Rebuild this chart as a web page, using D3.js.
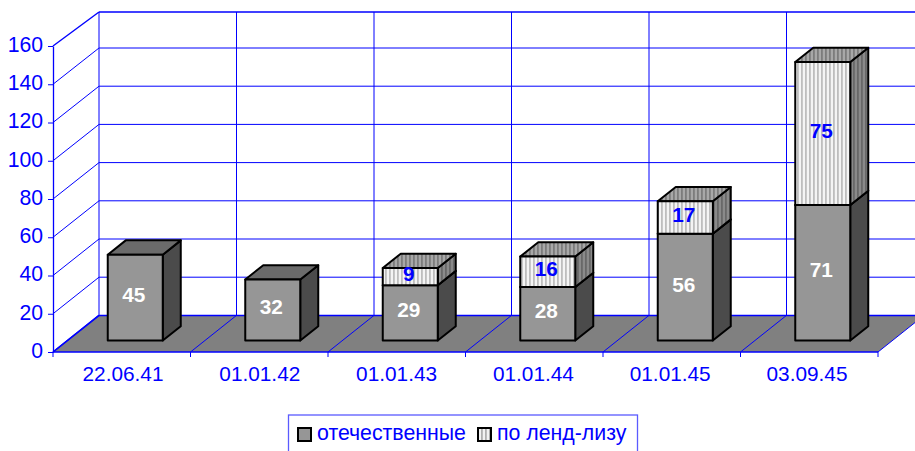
<!DOCTYPE html>
<html><head><meta charset="utf-8">
<script src="https://cdn.jsdelivr.net/npm/d3@7"></script>
<style>
html,body{margin:0;padding:0;background:#fff;overflow:hidden}
svg{display:block}
text{font-family:"Liberation Sans",Arial,sans-serif}
</style></head><body><svg id="c" width="915" height="451"></svg>
<script>
const categories = ["22.06.41","01.01.42","01.01.43","01.01.44","01.01.45","03.09.45"];
const domestic = [45,32,29,28,56,71];
const lendLease = [0,0,9,16,17,75];
const seriesNames = ["отечественные","по ленд-лизу"];
const yTicks = [0,20,40,60,80,100,120,140,160];

const BLUE="#0000ff";
const svg=d3.select("#c");
const defs=svg.append("defs");
function stripes(id,a,b){
  const p=defs.append("pattern").attr("id",id).attr("patternUnits","userSpaceOnUse").attr("width",4).attr("height",4);
  p.append("rect").attr("width",4).attr("height",4).attr("fill",a);
  p.append("rect").attr("x",1).attr("width",1.8).attr("height",4).attr("fill",b);
}
stripes("hFront","#f4f4f4","#bdbdbd");
stripes("hTop","#a8a8a8","#7c7c7c");
stripes("hSide","#8a8a8a","#686868");
stripes("hLegend","#f2f2f2","#b0b0b0");

// front plane scales
const x=d3.scaleBand().domain(categories).range([53,878]);
const xLabel=d3.scaleBand().domain(categories).range([54.6,875.4]);
const y=d3.scaleLinear().domain([0,160]).range([352,46]);
// back wall scales
const depthX=46;
const yBack=d3.scaleLinear().domain([0,140,160]).range([315.4,48,12]);
// bar plane scale
const yBar=d3.scaleLinear().domain([0,160]).range([340.5,35.3]);
const barW=55, barShift=13.5, dx=18, dy=14.3;

// floor
const gF=svg.append("g");
const floorPts=[[x.range()[0],y(0)],[x.range()[0]+depthX,yBack(0)],[x.range()[1]+depthX,yBack(0)],[x.range()[1],y(0)]];
gF.append("polygon").attr("points",floorPts.join(" ")).attr("fill","#808080");

// walls
const g=svg.append("g").attr("stroke",BLUE).attr("fill","none");
yTicks.forEach(t=>{
  g.append("line").attr("x1",x.range()[0]+depthX).attr("x2",915).attr("y1",yBack(t)).attr("y2",yBack(t)).attr("stroke-width",t===160||t===0?1.5:1);
  g.append("line").attr("x1",x.range()[0]).attr("x2",x.range()[0]+depthX).attr("y1",y(t)).attr("y2",yBack(t)).attr("stroke-width",t===160||t===0?1.4:1);
});
const edges=categories.map(c=>x(c)).concat([x.range()[1]]);
edges.forEach((e,i)=>{
  if(i<categories.length) g.append("line").attr("x1",e+depthX).attr("x2",e+depthX).attr("y1",yBack(160)).attr("y2",yBack(0));
  g.append("line").attr("x1",e).attr("x2",e+depthX).attr("y1",y(0)).attr("y2",yBack(0)).attr("stroke-width",i===0?1.4:1);
  g.append("line").attr("x1",e).attr("x2",e).attr("y1",y(0)).attr("y2",y(0)+5).attr("stroke-width",1);
});
g.append("line").attr("x1",x.range()[0]).attr("x2",x.range()[1]).attr("y1",y(0)).attr("y2",y(0)).attr("stroke-width",1.3);

// y axis
const ay=svg.append("g").attr("transform",`translate(${x.range()[0]},0)`)
  .call(d3.axisLeft(y).tickValues(yTicks).tickSize(5).tickPadding(5).tickSizeOuter(0));
ay.select(".domain").attr("stroke",BLUE).attr("stroke-width",1.3);
ay.selectAll("line").attr("stroke",BLUE);
ay.selectAll("text").attr("fill",BLUE).attr("y",-1.5).style("font-size","21.2px").style("font-family",'"Liberation Sans"');

// x axis labels
const ax=svg.append("g").attr("transform",`translate(0,${y(0)})`)
  .call(d3.axisBottom(xLabel).tickSize(0).tickPadding(14));
ax.select(".domain").remove();
ax.selectAll("text").attr("fill",BLUE).style("font-size","20.8px").style("font-family",'"Liberation Sans"');

// bars
function box(layer,cx,v0,v1,front,top,side){
  const l=cx-barW/2, r=cx+barW/2, yb=yBar(v0), yt=yBar(v1);
  const s={stroke:"#000","stroke-width":2,"stroke-linejoin":"round"};
  const add=(pts,fill)=>{const p=layer.append("polygon").attr("points",pts.join(" ")).attr("fill",fill);
    Object.entries(s).forEach(([k,v])=>p.attr(k,v));};
  add([[r,yb],[r+dx,yb-dy],[r+dx,yt-dy],[r,yt]],side);
  add([[l,yt],[l+dx,yt-dy],[r+dx,yt-dy],[r,yt]],top);
  add([[l,yb],[r,yb],[r,yt],[l,yt]],front);
}
const bars=svg.append("g"), labels=svg.append("g");
categories.forEach((c,i)=>{
  const cx=x(c)+x.bandwidth()/2+barShift;
  box(bars,cx,0,domestic[i],"#969696","#6b6b6b","#4b4b4b");
  if(lendLease[i]>0) box(bars,cx,domestic[i],domestic[i]+lendLease[i],"url(#hFront)","url(#hTop)","url(#hSide)");
  labels.append("text").attr("x",cx-1.5).attr("y",yBar(domestic[i]/2)-3).attr("dy","0.36em")
    .attr("text-anchor","middle").attr("fill","#fff").attr("font-weight","bold").attr("font-size",20.8).text(domestic[i]);
  if(lendLease[i]>0) labels.append("text").attr("x",cx-1.5).attr("y",yBar(domestic[i]+lendLease[i]/2)-3).attr("dy","0.36em")
    .attr("text-anchor","middle").attr("fill",BLUE).attr("font-weight","bold").attr("font-size",20.8).text(lendLease[i]);
});

// legend
const lg=svg.append("g");
lg.append("rect").attr("x",288.5).attr("y",415).attr("width",349).attr("height",60).attr("fill","#fff").attr("stroke","#5a5aff").attr("stroke-width",1.3);
const lx=[297,477], fills=["#969696","url(#hLegend)"];
seriesNames.forEach((n,i)=>{
  lg.append("rect").attr("x",lx[i]+1).attr("y",428).attr("width",13).attr("height",13).attr("fill",fills[i]).attr("stroke","#000").attr("stroke-width",2);
  lg.append("text").attr("x",lx[i]+20).attr("y",440).attr("fill",BLUE).attr("font-size",21.3).text(n);
});
</script></body></html>
